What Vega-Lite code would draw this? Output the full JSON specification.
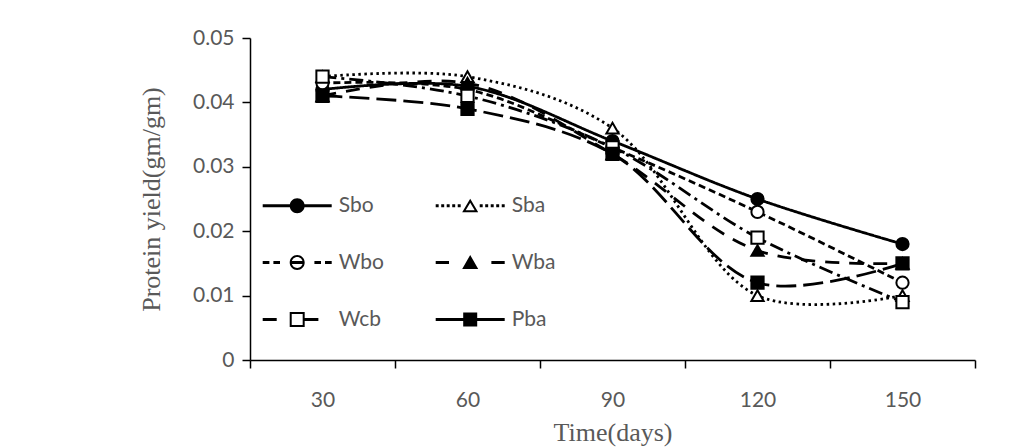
{
  "$schema": "https://vega.github.io/schema/vega-lite/v6.json",
  "width": 725,
  "height": 322,
  "autosize": "none",
  "padding": {"left": 250, "top": 38, "right": 38, "bottom": 88},
  "background": "white",
  "config": {
    "view": {"stroke": null},
    "axis": {
      "grid": false,
      "domainColor": "black",
      "domainWidth": 1.5,
      "tickColor": "black",
      "tickWidth": 1.5,
      "tickSize": 8,
      "labelFont": "Lato",
      "labelFontSize": 21,
      "labelColor": "#595959",
      "titleFont": "Liberation Serif",
      "titleFontSize": 26,
      "titleFontWeight": "normal",
      "titleColor": "#595959"
    }
  },
  "data": {
    "values": [
      {"series": "Sbo", "day": 30, "value": 0.042},
      {"series": "Sbo", "day": 60, "value": 0.0425},
      {"series": "Sbo", "day": 90, "value": 0.034},
      {"series": "Sbo", "day": 120, "value": 0.025},
      {"series": "Sbo", "day": 150, "value": 0.018},
      {"series": "Sba", "day": 30, "value": 0.044},
      {"series": "Sba", "day": 60, "value": 0.044},
      {"series": "Sba", "day": 90, "value": 0.036},
      {"series": "Sba", "day": 120, "value": 0.010},
      {"series": "Sba", "day": 150, "value": 0.010},
      {"series": "Wbo", "day": 30, "value": 0.043},
      {"series": "Wbo", "day": 60, "value": 0.042},
      {"series": "Wbo", "day": 90, "value": 0.033},
      {"series": "Wbo", "day": 120, "value": 0.023},
      {"series": "Wbo", "day": 150, "value": 0.012},
      {"series": "Wba", "day": 30, "value": 0.041},
      {"series": "Wba", "day": 60, "value": 0.043},
      {"series": "Wba", "day": 90, "value": 0.032},
      {"series": "Wba", "day": 120, "value": 0.017},
      {"series": "Wba", "day": 150, "value": 0.015},
      {"series": "Wcb", "day": 30, "value": 0.044},
      {"series": "Wcb", "day": 60, "value": 0.041},
      {"series": "Wcb", "day": 90, "value": 0.033},
      {"series": "Wcb", "day": 120, "value": 0.019},
      {"series": "Wcb", "day": 150, "value": 0.009},
      {"series": "Pba", "day": 30, "value": 0.041},
      {"series": "Pba", "day": 60, "value": 0.039},
      {"series": "Pba", "day": 90, "value": 0.032},
      {"series": "Pba", "day": 120, "value": 0.012},
      {"series": "Pba", "day": 150, "value": 0.015}
    ]
  },
  "encoding": {
    "x": {
      "field": "day",
      "type": "ordinal",
      "scale": {"type": "band", "paddingInner": 0, "paddingOuter": 0},
      "axis": {
        "tickBand": "extent",
        "labelAngle": 0,
        "labelPadding": 21,
        "title": "Time(days)",
        "titlePadding": 9
      }
    },
    "y": {
      "field": "value",
      "type": "quantitative",
      "scale": {"domain": [0, 0.05], "nice": false},
      "axis": {
        "values": [0, 0.01, 0.02, 0.03, 0.04, 0.05],
        "format": ".2~f",
        "labelPadding": 8,
        "title": "Protein yield(gm/gm)",
        "titlePadding": 28
      }
    }
  },
  "layer": [
    {
      "mark": {"type": "line", "interpolate": "catmull-rom", "strokeWidth": 2.8, "color": "black"},
      "encoding": {
        "strokeDash": {
          "field": "series",
          "type": "nominal",
          "scale": {
            "domain": ["Sbo", "Sba", "Wbo", "Wba", "Wcb", "Pba"],
            "range": [[1, 0], [2.5, 3.5], [7, 4], [14, 10], [14, 5, 3, 5], [20, 7]]
          },
          "legend": null
        }
      }
    },
    {
      "mark": {"type": "point", "filled": true, "size": 150, "stroke": "black", "strokeWidth": 2, "opacity": 1},
      "encoding": {
        "shape": {
          "field": "series",
          "type": "nominal",
          "scale": {
            "domain": ["Sbo", "Sba", "Wbo", "Wba", "Wcb", "Pba"],
            "range": ["circle", "triangle-up", "circle", "triangle-up", "square", "square"]
          },
          "legend": null
        },
        "fill": {
          "field": "series",
          "type": "nominal",
          "scale": {
            "domain": ["Sbo", "Sba", "Wbo", "Wba", "Wcb", "Pba"],
            "range": ["black", "white", "white", "black", "white", "black"]
          },
          "legend": null
        }
      }
    },
    {
      "transform": [{"filter": "datum.day > 1000"}],
      "mark": {"type": "point", "filled": true, "color": "black", "opacity": 1},
      "encoding": {
        "shape": {
          "field": "series",
          "type": "nominal",
          "scale": {
            "domain": ["Sbo", "Sba", "Wbo", "Wba", "Wcb", "Pba"],
            "range": [
              "M-1,-0.043H1V0.043H-1Z M-0.217,0A0.217,0.217 0 1 1 0.217,0A0.217,0.217 0 1 1 -0.217,0Z",
              "M-1,-0.043H-0.914V0.043H-1Z M-0.840,-0.043H-0.754V0.043H-0.840Z M-0.681,-0.043H-0.595V0.043H-0.681Z M-0.521,-0.043H-0.435V0.043H-0.521Z M-0.362,-0.043H-0.276V0.043H-0.362Z M0.276,-0.043H0.362V0.043H0.276Z M0.435,-0.043H0.521V0.043H0.435Z M0.595,-0.043H0.681V0.043H0.595Z M0.754,-0.043H0.840V0.043H0.754Z M0.914,-0.043H1V0.043H0.914Z M0,-0.203L0.232,0.188L-0.232,0.188Z M0,-0.089L-0.130,0.130L0.130,0.130Z",
              "M-1,-0.043H-0.806V0.043H-1Z M-0.690,-0.043H-0.499V0.043H-0.690Z M0.499,-0.043H0.690V0.043H0.499Z M0.806,-0.043H1V0.043H0.806Z M-0.17,-0.043H0.17V0.043H-0.17Z M-0.217,0A0.217,0.217 0 1 1 0.217,0A0.217,0.217 0 1 1 -0.217,0Z M-0.159,0A0.159,0.159 0 1 0 0.159,0A0.159,0.159 0 1 0 -0.159,0Z",
              "M-1,-0.043H-0.614V0.043H-1Z M0.614,-0.043H1V0.043H0.614Z M0,-0.217L0.232,0.188L-0.232,0.188Z",
              "M-1,-0.043H-0.594V0.043H-1Z M-0.217,-0.217H0.217V0.217H-0.217Z M-0.159,-0.159V0.159H0.159V-0.159Z M0.217,-0.043H0.614V0.043H0.217Z",
              "M-1,-0.043H1V0.043H-1Z M-0.203,-0.203H0.203V0.203H-0.203Z"
            ]
          },
          "legend": {
            "orient": "none",
            "legendX": 12.7,
            "legendY": 133,
            "columns": 2,
            "direction": "horizontal",
            "title": null,
            "padding": 0,
            "symbolSize": 4761,
            "symbolFillColor": "black",
            "symbolStrokeColor": "black",
            "symbolStrokeWidth": 0,
            "symbolOpacity": 1,
            "labelFont": "Lato",
            "labelFontSize": 21,
            "labelColor": "#595959",
            "labelOffset": 7,
            "labelLimit": 300,
            "rowPadding": 12,
            "columnPadding": 51
          }
        }
      }
    }
  ],
  "resolve": {"scale": {"shape": "independent", "fill": "independent"}}
}
